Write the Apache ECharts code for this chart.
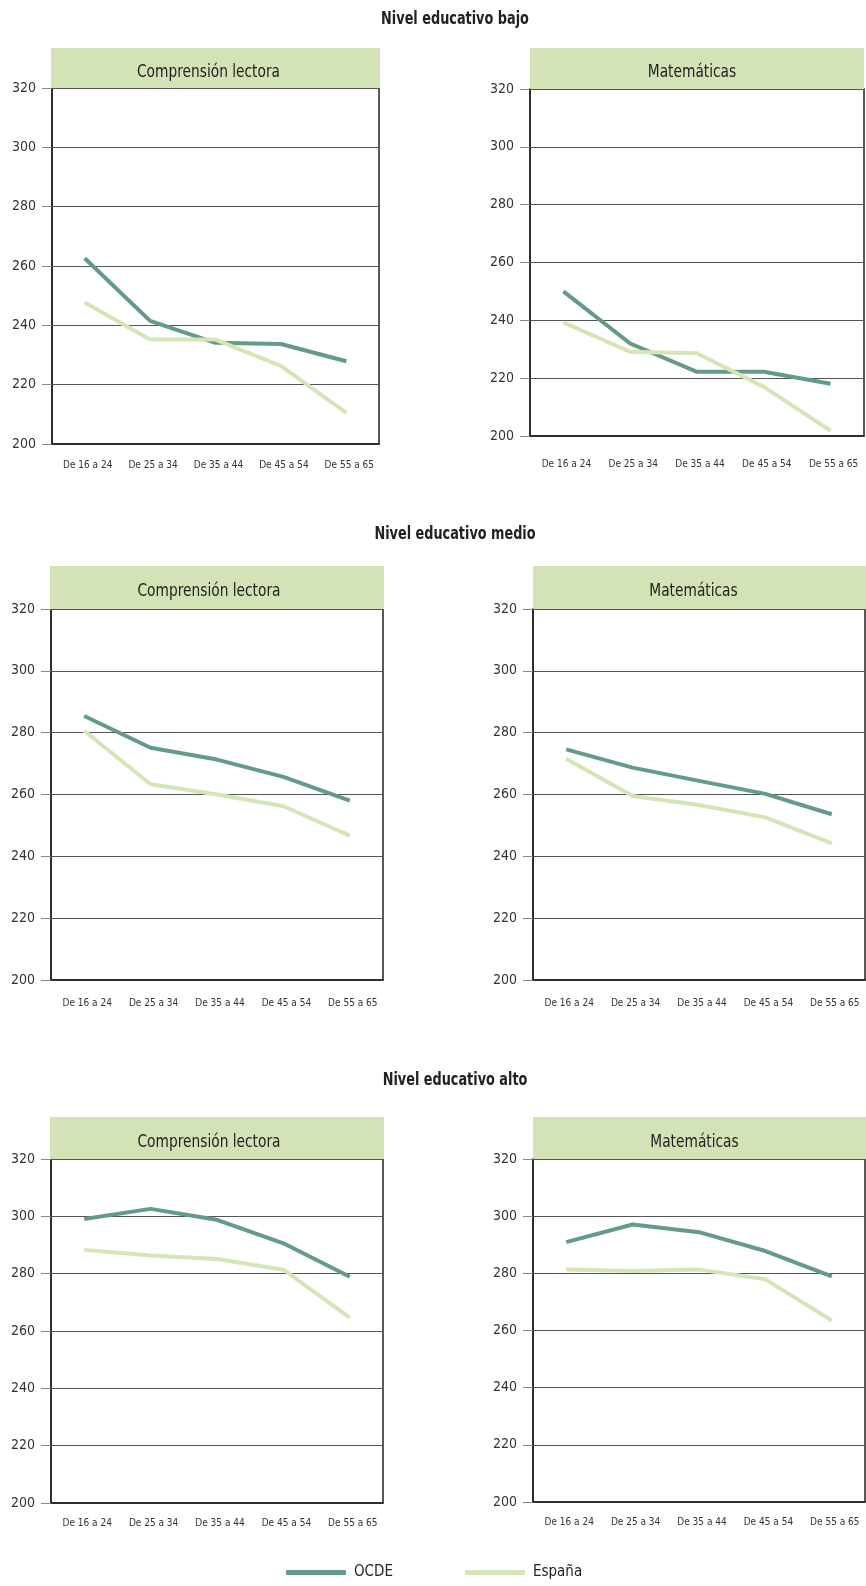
<!DOCTYPE html>
<html>
<head>
<meta charset="utf-8">
<script src="https://cdn.jsdelivr.net/npm/echarts@6/dist/echarts.min.js"></script>
<style>
html,body{margin:0;padding:0;background:#fff;}
#chart{width:866px;height:1586px;}
</style>
</head>
<body>
<div id="chart"></div>
<script>
// ---- Data ----
const categories = ['De 16 a 24', 'De 25 a 34', 'De 35 a 44', 'De 45 a 54', 'De 55 a 65'];
const yTicks = [200, 220, 240, 260, 280, 300, 320];
const rowTitles = ['Nivel educativo bajo', 'Nivel educativo medio', 'Nivel educativo alto'];
const panelTitles = ['Comprensión lectora', 'Matemáticas'];
const seriesNames = ['OCDE', 'España'];

const bajoLecturaOCDE = [262.6, 241.5, 234.1, 233.7, 227.9];
const bajoLecturaEsp  = [247.7, 235.2, 235.2, 226.3, 210.5];
const bajoMatOCDE     = [250.0, 232.0, 222.2, 222.2, 218.1];
const bajoMatEsp      = [239.3, 229.1, 228.6, 217.0, 201.8];
const medioLecturaOCDE = [285.4, 275.1, 271.3, 265.7, 258.0];
const medioLecturaEsp  = [280.6, 263.3, 260.0, 256.2, 246.7];
const medioMatOCDE     = [274.6, 268.7, 264.4, 260.2, 253.6];
const medioMatEsp      = [271.6, 259.5, 256.6, 252.6, 244.2];
const altoLecturaOCDE = [299.1, 302.6, 298.8, 290.6, 278.9];
const altoLecturaEsp  = [288.3, 286.3, 285.1, 281.4, 264.7];
const altoMatOCDE     = [290.9, 297.1, 294.4, 287.8, 278.9];
const altoMatEsp      = [281.3, 280.8, 281.3, 277.9, 263.5];

const panelData = [
  [bajoLecturaOCDE, bajoLecturaEsp],
  [bajoMatOCDE, bajoMatEsp],
  [medioLecturaOCDE, medioLecturaEsp],
  [medioMatOCDE, medioMatEsp],
  [altoLecturaOCDE, altoLecturaEsp],
  [altoMatOCDE, altoMatEsp]
];

// ---- Layout / style ----
const FONT = "'Liberation Sans Narrow', 'DejaVu Sans Condensed', 'Roboto', sans-serif";
const COL_OCDE = '#649b84';
const COL_ESP = '#d4e5b6';
const COL_HEAD = '#d3e3b6';
const grids = [
  {left: 52,  top: 88,   width: 327, height: 356, xm: 16, ym: 16},
  {left: 530, top: 89,   width: 334, height: 347, xm: 23, ym: 16},
  {left: 51,  top: 609,  width: 332, height: 371, xm: 18, ym: 16},
  {left: 533, top: 609,  width: 332, height: 371, xm: 18, ym: 16},
  {left: 51,  top: 1159, width: 332, height: 344, xm: 15, ym: 16},
  {left: 533, top: 1159, width: 332, height: 343, xm: 15, ym: 16}
];
const heads = [
  {x: 51,  y: 48,   w: 329, h: 40, dx: -7},
  {x: 530, y: 48,   w: 334, h: 41, dx: -5},
  {x: 50,  y: 566,  w: 334, h: 43, dx: -8},
  {x: 533, y: 566,  w: 333, h: 43, dx: -6},
  {x: 50,  y: 1117, w: 334, h: 42, dx: -8},
  {x: 533, y: 1117, w: 333, h: 42, dx: -5}
];
const titleCenters = [20, 535, 1081];

const chart = echarts.init(document.getElementById('chart'), null, {renderer: 'canvas'});

const option = {
  animation: false,
  backgroundColor: '#fff',
  legend: {
    data: seriesNames,
    left: 281, top: 1560,
    itemWidth: 60, itemHeight: 5, itemGap: 72,
    icon: 'roundRect',
    textStyle: {fontFamily: FONT, fontSize: 15, color: '#222', padding: [0, 0, 0, 3]}
  },
  grid: grids.map(g => ({
    left: g.left, top: g.top, width: g.width, height: g.height,
    show: true, borderColor: '#222', borderWidth: 1.5, backgroundColor: 'transparent',
    containLabel: false
  })),
  xAxis: grids.map((g, i) => ({
    type: 'category', gridIndex: i, data: categories, boundaryGap: true,
    axisLine: {show: true, lineStyle: {color: '#222', width: 1.5}},
    axisTick: {show: false},
    axisLabel: {fontFamily: FONT, fontSize: 10, color: '#333', margin: g.xm, interval: 0,
      padding: [0, 0, 0, 6]}
  })),
  yAxis: grids.map((g, i) => ({
    type: 'value', gridIndex: i, min: 200, max: 320, interval: 20,
    axisLine: {show: true, lineStyle: {color: '#222', width: 1.5}},
    axisTick: {show: true, length: 10, lineStyle: {color: '#888'}},
    splitLine: {show: true, lineStyle: {color: '#555', width: 1}},
    axisLabel: {fontFamily: FONT, fontSize: 14, color: '#333', margin: g.ym,
      customValues: yTicks}
  })),
  series: [],
  graphic: []
};

panelData.forEach((pair, i) => {
  pair.forEach((vals, k) => {
    option.series.push({
      name: seriesNames[k], type: 'line', xAxisIndex: i, yAxisIndex: i,
      data: vals, showSymbol: false, symbol: 'none',
      lineStyle: {color: k === 0 ? COL_OCDE : COL_ESP, width: 4},
      itemStyle: {color: k === 0 ? COL_OCDE : COL_ESP},
      z: 3 + k
    });
  });
});

rowTitles.forEach((t, i) => {
  option.graphic.push({
    type: 'text', x: 455, y: titleCenters[i], scaleX: 0.84,
    style: {text: t, x: 0, y: 0, fontFamily: FONT, fontSize: 17, fontWeight: 'bold', fill: '#222',
      textAlign: 'center', textVerticalAlign: 'middle'},
    z: 2
  });
});

heads.forEach((h, i) => {
  option.graphic.push({
    type: 'rect', shape: {x: h.x, y: h.y, width: h.w, height: h.h},
    style: {fill: COL_HEAD}, z: 1
  });
  option.graphic.push({
    type: 'text', x: h.x + h.w / 2 + h.dx, y: h.y + h.h / 2 + 4, scaleX: 0.85,
    style: {text: panelTitles[i % 2], x: 0, y: 0, fontFamily: FONT, fontSize: 18, fill: '#222',
      textAlign: 'center', textVerticalAlign: 'middle'},
    z: 2
  });
});

chart.setOption(option);
</script>
</body>
</html>
